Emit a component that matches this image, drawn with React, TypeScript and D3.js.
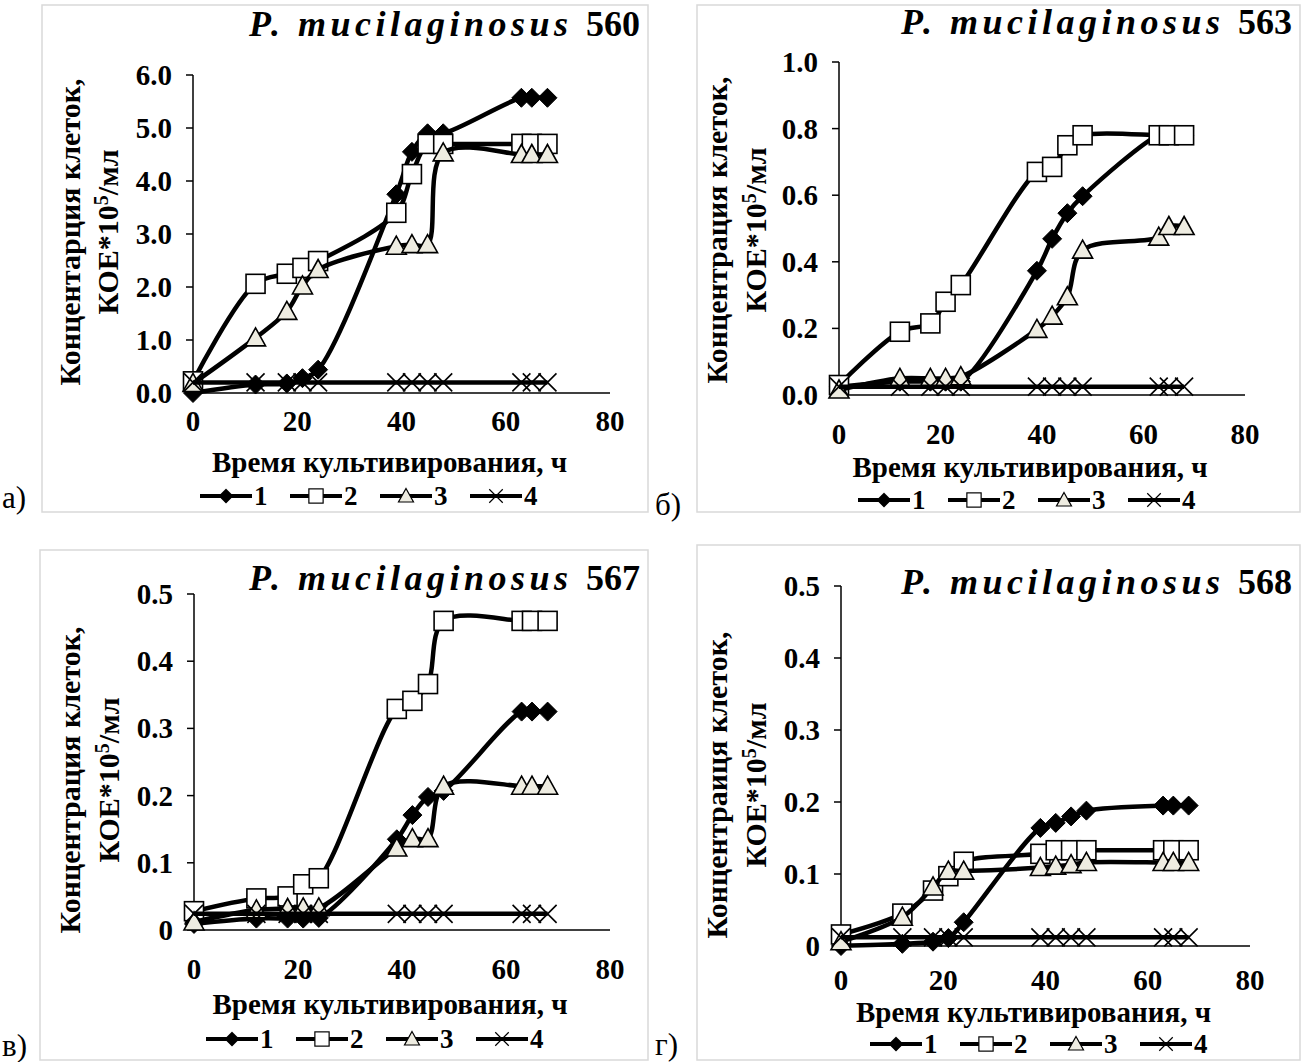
import React from "react";
import * as d3 from "d3";

const hours = [0, 12, 18, 21, 24, 39, 42, 45, 48, 63, 65, 68];

// Panel а) P. mucilaginosus 560
const a1 = [0.0, 0.16, 0.18, 0.28, 0.44, 3.75, 4.55, 4.9, 4.9, 5.57, 5.57, 5.57];
const a2 = [0.22, 2.06, 2.25, 2.36, 2.49, 3.4, 4.13, 4.7, 4.7, 4.7, 4.7, 4.7];
const a3 = [0.18, 1.04, 1.54, 2.02, 2.33, 2.77, 2.8, 2.8, 4.53, 4.5, 4.5, 4.5];
const a4 = [0.2, 0.2, 0.2, 0.2, 0.2, 0.2, 0.2, 0.2, 0.2, 0.2, 0.2, 0.2];

// Panel б) P. mucilaginosus 563
const b1 = [0.025, 0.04, 0.04, 0.04, 0.04, 0.373, 0.469, 0.546, 0.597, 0.78, 0.78, 0.78];
const b2 = [0.03, 0.19, 0.215, 0.28, 0.33, 0.67, 0.685, 0.75, 0.78, 0.78, 0.78, 0.78];
const b3 = [0.015, 0.05, 0.05, 0.05, 0.055, 0.197, 0.237, 0.295, 0.435, 0.474, 0.506, 0.506];
const b4 = [0.025, 0.025, 0.025, 0.025, 0.025, 0.025, 0.025, 0.025, 0.025, 0.025, 0.025, 0.025];

// Panel в) P. mucilaginosus 567
const c1 = [0.009, 0.017, 0.017, 0.017, 0.018, 0.135, 0.171, 0.198, 0.207, 0.325, 0.325, 0.325];
const c2 = [0.028, 0.047, 0.05, 0.068, 0.077, 0.329, 0.341, 0.366, 0.46, 0.46, 0.46, 0.46];
const c3 = [0.012, 0.03, 0.032, 0.033, 0.033, 0.122, 0.136, 0.136, 0.214, 0.214, 0.214, 0.214];
const c4 = [0.024, 0.024, 0.024, 0.024, 0.024, 0.024, 0.024, 0.024, 0.024, 0.024, 0.024, 0.024];

// Panel г) P. mucilaginosus 568
const d1 = [0.0, 0.003, 0.006, 0.011, 0.033, 0.164, 0.171, 0.18, 0.188, 0.195, 0.195, 0.195];
const d2 = [0.016, 0.045, 0.077, 0.097, 0.117, 0.128, 0.133, 0.133, 0.133, 0.133, 0.133, 0.133];
const d3v = [0.006, 0.04, 0.082, 0.104, 0.104, 0.109, 0.111, 0.113, 0.116, 0.116, 0.116, 0.116];
const d4 = [0.012, 0.012, 0.012, 0.012, 0.012, 0.012, 0.012, 0.012, 0.012, 0.012, 0.012, 0.012];

const xTicks = [0, 20, 40, 60, 80];
const yTicksA = [0, 1, 2, 3, 4, 5, 6];
const yTicksB = [0, 0.2, 0.4, 0.6, 0.8, 1.0];
const yTicksC = [0, 0.1, 0.2, 0.3, 0.4, 0.5];
const legendLabels = ["1", "2", "3", "4"];
const xTitle = "Время культивирования, ч";

const FONT = "'Liberation Serif', 'Times New Roman', serif";
const FS_TICK = 29;
const FS_XT = 29;
const FS_YT = 30;
const FS_LEG = 27;

type Panel = {
  letter: string;
  strain: string;
  yLabel1: string;
  series: number[][];
  yTicks: number[];
  yMax: number;
  fmt: (v: number) => string;
  frame: [number, number, number, number];
  px: [number, number];
  py: [number, number];
  xLabelY: number;
  xTitleY: number;
  legendY: number;
  legendX: number;
  yLabX: [number, number];
  yLabCY: number;
  titleRight: number;
  titleY: number;
  letterPos: [number, number];
};

const fmt1 = (v: number) => v.toFixed(1);
const fmtC = (v: number) => (v === 0 ? "0" : v.toFixed(1));

const panels: Panel[] = [
  {
    letter: "а)", strain: "560", yLabel1: "Концентарция клеток,",
    series: [a1, a2, a3, a4], yTicks: yTicksA, yMax: 6, fmt: fmt1,
    frame: [42, 5, 648, 512], px: [193, 610], py: [393, 75],
    xLabelY: 431, xTitleY: 472, legendY: 505, legendX: 200,
    yLabX: [80, 118], yLabCY: 232, titleRight: 640, titleY: 36, letterPos: [2, 508],
  },
  {
    letter: "б)", strain: "563", yLabel1: "Концентрация клеток,",
    series: [b1, b2, b3, b4], yTicks: yTicksB, yMax: 1, fmt: fmt1,
    frame: [697, 5, 1300, 512], px: [839, 1245], py: [395, 62],
    xLabelY: 444, xTitleY: 477, legendY: 509, legendX: 858,
    yLabX: [727, 766], yLabCY: 230, titleRight: 1292, titleY: 34, letterPos: [655, 515],
  },
  {
    letter: "в)", strain: "567", yLabel1: "Концентрация клеток,",
    series: [c1, c2, c3, c4], yTicks: yTicksC, yMax: 0.5, fmt: fmtC,
    frame: [40, 550, 648, 1060], px: [194, 610], py: [930, 594],
    xLabelY: 979, xTitleY: 1014, legendY: 1048, legendX: 206,
    yLabX: [80, 119], yLabCY: 780, titleRight: 640, titleY: 590, letterPos: [2, 1056],
  },
  {
    letter: "г)", strain: "568", yLabel1: "Концентраиця клеток,",
    series: [d1, d2, d3v, d4], yTicks: yTicksC, yMax: 0.5, fmt: fmtC,
    frame: [697, 545, 1300, 1060], px: [841, 1250], py: [946, 586],
    xLabelY: 990, xTitleY: 1022, legendY: 1053, legendX: 870,
    yLabX: [727, 766], yLabCY: 785, titleRight: 1292, titleY: 594, letterPos: [655, 1055],
  },
];

const TRI_FILL = "#eeece1";

function Marker({ kind, x, y }: { kind: number; x: number; y: number }) {
  if (kind === 0) {
    const r = 9.5;
    return <path d={`M${x},${y - r}L${x + r},${y}L${x},${y + r}L${x - r},${y}Z`} fill="#000" stroke="#000" strokeWidth={1} />;
  }
  if (kind === 1) {
    const r = 9.5;
    return <rect x={x - r} y={y - r} width={2 * r} height={2 * r} fill="#fff" stroke="#000" strokeWidth={1.6} />;
  }
  if (kind === 2) {
    const r = 10;
    return <path d={`M${x},${y - r}L${x + r},${y + r * 0.8}L${x - r},${y + r * 0.8}Z`} fill={TRI_FILL} stroke="#000" strokeWidth={1.6} />;
  }
  const r = 9;
  return <path d={`M${x - r},${y - r}L${x + r},${y + r}M${x - r},${y + r}L${x + r},${y - r}`} stroke="#000" strokeWidth={1.6} fill="none" />;
}

function PanelView({ p }: { p: Panel }) {
  const x = d3.scaleLinear().domain([0, 80]).range(p.px);
  const y = d3.scaleLinear().domain([0, p.yMax]).range(p.py);
  const line = d3.line<[number, number]>().x((d) => x(d[0])).y((d) => y(d[1])).curve(d3.curveCatmullRom.alpha(0.5));
  const [fx0, fy0, fx1, fy1] = p.frame;
  const xMid = (p.px[0] + p.px[1]) / 2 - 12;
  const legendStep = 90;
  return (
    <g>
      <rect x={fx0} y={fy0} width={fx1 - fx0} height={fy1 - fy0} fill="#fff" stroke="#d9d9d9" strokeWidth={1.5} />
      <text x={p.letterPos[0]} y={p.letterPos[1]} fontFamily={FONT} fontSize={31}>{p.letter}</text>
      <text x={p.titleRight} y={p.titleY} textAnchor="end" fontFamily={FONT} fontSize={36} fontWeight="bold">
        <tspan fontStyle="italic" letterSpacing={4.5}>P. mucilaginosus </tspan>
        <tspan>{p.strain}</tspan>
      </text>
      {/* axes */}
      <line x1={x(0)} x2={x(0)} y1={y(0)} y2={y(p.yMax)} stroke="#000" strokeWidth={1.5} />
      <line x1={x(0)} x2={x(80)} y1={y(0)} y2={y(0)} stroke="#000" strokeWidth={1.5} />
      {p.yTicks.map((t) => (
        <g key={t}>
          <line x1={x(0) - 7} x2={x(0)} y1={y(t)} y2={y(t)} stroke="#000" strokeWidth={1.5} />
          <text x={x(0) - 21} y={y(t) + 10} textAnchor="end" fontFamily={FONT} fontSize={FS_TICK} fontWeight="bold">{p.fmt(t)}</text>
        </g>
      ))}
      {xTicks.map((t) => (
        <text key={t} x={x(t)} y={p.xLabelY} textAnchor="middle" fontFamily={FONT} fontSize={FS_TICK} fontWeight="bold">{t}</text>
      ))}
      <text x={xMid} y={p.xTitleY} textAnchor="middle" fontFamily={FONT} fontSize={FS_XT} fontWeight="bold">{xTitle}</text>
      <g transform={`translate(${p.yLabX[0]},${p.yLabCY}) rotate(-90)`}>
        <text textAnchor="middle" fontFamily={FONT} fontSize={FS_YT} fontWeight="bold">{p.yLabel1}</text>
      </g>
      <g transform={`translate(${p.yLabX[1]},${p.yLabCY}) rotate(-90)`}>
        <text textAnchor="middle" fontFamily={FONT} fontSize={FS_YT} fontWeight="bold">
          КОЕ*10<tspan dy={-10} fontSize={20}>5</tspan><tspan dy={10}>/мл</tspan>
        </text>
      </g>
      {/* series */}
      {p.series.map((vals, si) => {
        const pts: [number, number][] = hours.map((h, i) => [h, vals[i]]);
        return (
          <g key={si}>
            <path d={line(pts) || ""} fill="none" stroke="#000" strokeWidth={4.5} strokeLinejoin="round" />
            {pts.map((pt, i) => (
              <Marker key={i} kind={si} x={x(pt[0])} y={y(pt[1])} />
            ))}
          </g>
        );
      })}
      {/* legend */}
      {legendLabels.map((lab, i) => {
        const lx = p.legendX + i * legendStep;
        return (
          <g key={lab}>
            <line x1={lx} x2={lx + 52} y1={p.legendY - 9} y2={p.legendY - 9} stroke="#000" strokeWidth={4} />
            <g transform={`translate(${lx + 26},${p.legendY - 9}) scale(0.75)`}>
              <Marker kind={i} x={0} y={0} />
            </g>
            <text x={lx + 54} y={p.legendY} fontFamily={FONT} fontSize={FS_LEG} fontWeight="bold">{lab}</text>
          </g>
        );
      })}
    </g>
  );
}

export default function App() {
  return (
    <svg width={1306} height={1062} style={{ position: "absolute", left: 0, top: 0, background: "#fff" }}>
      <rect x={0} y={0} width={1306} height={1062} fill="#fff" />
      {panels.map((p) => (
        <PanelView key={p.letter} p={p} />
      ))}
    </svg>
  );
}
